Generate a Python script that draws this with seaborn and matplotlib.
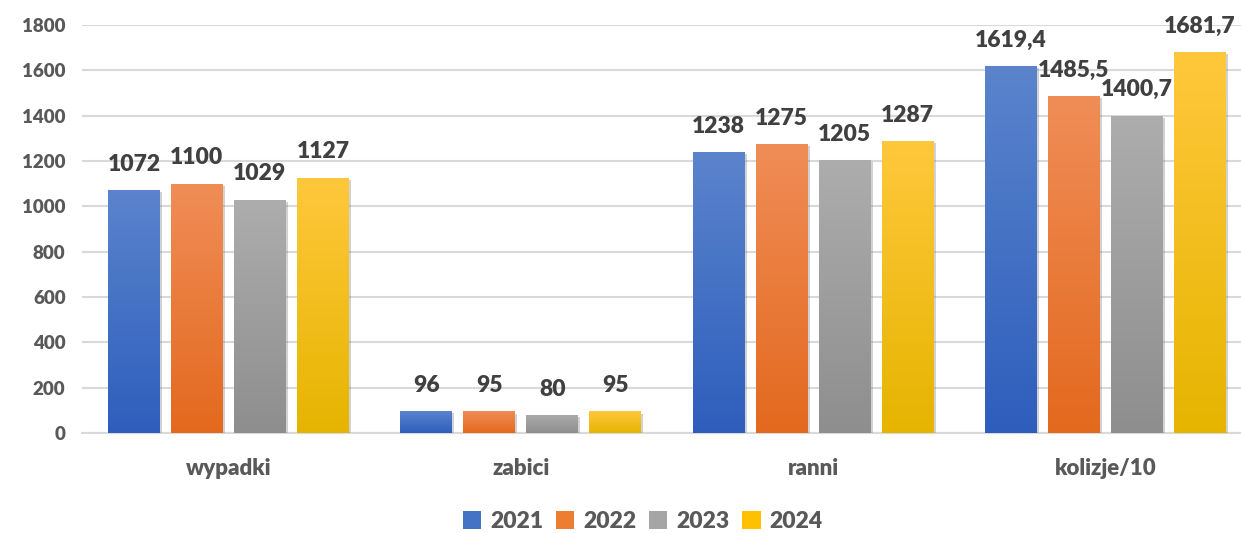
"""Grouped bar chart: road accident statistics 2021-2024."""

import matplotlib.pyplot as plt
import numpy as np
import pandas as pd
import seaborn as sns
from matplotlib import patheffects
from matplotlib.colors import LinearSegmentedColormap
from matplotlib.patches import Patch

CATEGORIES = ["wypadki", "zabici", "ranni", "kolizje/10"]
YEARS = ["2021", "2022", "2023", "2024"]
VALUES_2021 = [1072, 96, 1238, 1619.4]
VALUES_2022 = [1100, 95, 1275, 1485.5]
VALUES_2023 = [1029, 80, 1205, 1400.7]
VALUES_2024 = [1127, 95, 1287, 1681.7]
Y_TICKS = [0, 200, 400, 600, 800, 1000, 1200, 1400, 1600, 1800]

# top colour, bottom colour of each bar gradient
GRADIENTS = {
    "2021": ("#5B84CC", "#2E5EBD"),
    "2022": ("#F08D57", "#E3691E"),
    "2023": ("#ADADAD", "#8E8E8E"),
    "2024": ("#FFC83C", "#E6B400"),
}
LEGEND_COLORS = {"2021": "#4472C4", "2022": "#ED7D31", "2023": "#A5A5A5", "2024": "#FFC000"}

TEXT_COLOR = "#595959"
LABEL_COLOR = "#404040"
GRID_COLOR = "#D9D9D9"
WEIGHT = "heavy"


def fmt(value: float) -> str:
    if float(value).is_integer():
        return str(int(value))
    return f"{value:.1f}".replace(".", ",")


def main() -> None:
    sns.set_style("white")
    plt.rcParams["font.family"] = ["Lato", "DejaVu Sans"]
    plt.rcParams["font.weight"] = WEIGHT

    series = [VALUES_2021, VALUES_2022, VALUES_2023, VALUES_2024]
    data = pd.DataFrame({
        "category": CATEGORIES * len(YEARS),
        "year": [year for year in YEARS for _ in CATEGORIES],
        "value": [v for values in series for v in values],
    })

    fig = plt.figure(figsize=(12.41, 5.33), dpi=100)
    ax = fig.add_axes([0.0663, 0.1876, 0.9337, 0.7655])

    sns.barplot(
        data=data,
        x="category",
        y="value",
        hue="year",
        hue_order=YEARS,
        order=CATEGORIES,
        palette=LEGEND_COLORS,
        width=0.862,
        gap=0.175,
        legend=False,
        ax=ax,
        zorder=3,
    )

    # vertical gradient fill per bar, plus a soft shadow
    gradient = np.linspace(0, 1, 256).reshape(-1, 1)
    for container, year, values in zip(ax.containers, YEARS, series):
        top, bottom = GRADIENTS[year]
        cmap = LinearSegmentedColormap.from_list(year, [top, bottom])
        for patch in container.patches:
            x0, y0 = patch.get_x(), patch.get_y()
            w, h = patch.get_width(), patch.get_height()
            patch.set_edgecolor("none")
            patch.set_path_effects([
                patheffects.SimplePatchShadow(offset=(1.5, -1.5), shadow_rgbFace="#808080", alpha=0.35),
                patheffects.Normal(),
            ])
            img = ax.imshow(
                gradient,
                cmap=cmap,
                extent=(x0, x0 + w, y0, y0 + h),
                aspect="auto",
                origin="upper",
                zorder=4,
            )
            img.set_clip_path(patch)
        ax.bar_label(
            container,
            labels=[fmt(v) for v in values],
            padding=11,
            fontsize=16.5,
            fontweight=WEIGHT,
            color=LABEL_COLOR,
            zorder=5,
        )

    ax.set_xlim(-0.5, 3.464)
    ax.set_ylim(0, 1800)
    ax.set_yticks(Y_TICKS)
    ax.set_yticklabels([str(t) for t in Y_TICKS])
    ax.yaxis.grid(True, color=GRID_COLOR, linewidth=1.5, zorder=0)
    ax.set_axisbelow(True)
    for side in ["top", "right", "left"]:
        ax.spines[side].set_visible(False)
    ax.spines["bottom"].set_color(GRID_COLOR)
    ax.spines["bottom"].set_linewidth(1.5)
    ax.spines["bottom"].set_zorder(2)

    ax.tick_params(axis="y", length=0, pad=12, labelsize=13.5, labelcolor=TEXT_COLOR)
    ax.tick_params(axis="x", length=0, pad=18, labelsize=16, labelcolor=TEXT_COLOR)
    for label in ax.get_xticklabels() + ax.get_yticklabels():
        label.set_fontweight(WEIGHT)
    ax.set_xlabel("")
    ax.set_ylabel("")

    handles = [Patch(facecolor=LEGEND_COLORS[y], edgecolor="none") for y in YEARS]
    fig.legend(
        handles,
        YEARS,
        loc="center",
        bbox_to_anchor=(0.518, 0.022),
        ncol=4,
        frameon=False,
        handlelength=0.8,
        handleheight=0.8,
        handletextpad=0.4,
        columnspacing=0.55,
        prop={"size": 16.5, "weight": WEIGHT},
        labelcolor=TEXT_COLOR,
    )

    fig.savefig("out.png", dpi=100)
    plt.close(fig)


if __name__ == "__main__":
    main()
